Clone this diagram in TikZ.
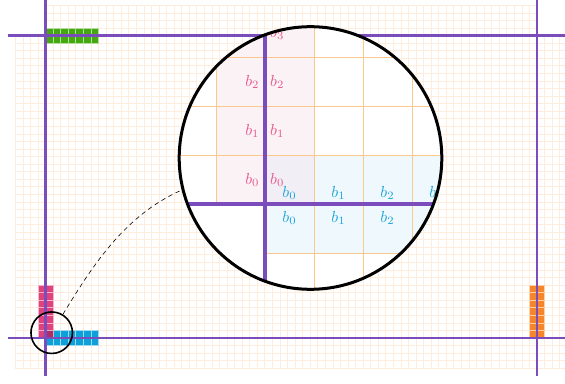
\documentclass[tikz,border=0pt]{standalone}
\definecolor{bndpurple}{RGB}{122,76,188}
\definecolor{finegrid}{RGB}{254,237,220}
\definecolor{maggridc}{RGB}{248,200,140}
\definecolor{ghgreen}{RGB}{70,168,16}
\definecolor{ghpink}{RGB}{224,66,124}
\definecolor{ghblue}{RGB}{14,160,216}
\definecolor{ghorange}{RGB}{246,134,43}
\definecolor{ghover}{RGB}{172,46,104}
\definecolor{pinkbg}{RGB}{251,242,246}
\definecolor{bluebg}{RGB}{239,248,252}
\definecolor{overbg}{RGB}{241,239,245}
\definecolor{plabc}{RGB}{232,88,140}
\definecolor{blabc}{RGB}{30,166,220}
\newcommand{\blabtxt}[1]{\scalebox{1.6}{$b_{#1}$}}
\begin{document}
\begin{tikzpicture}[x=1pt,y=-1pt,
  fine/.style={draw=finegrid, line width=0.9pt},
  ghost/.style={fill=#1, draw=#1!40!white, line width=0.9pt},
  bndline/.style={draw=bndpurple, line width=2.6pt},
  bndmag/.style={draw=bndpurple, line width=3.6pt},
  maggrid/.style={draw=maggridc, line width=1pt},
  lbl/.style={inner sep=0pt},
  plab/.style={lbl, text=plabc},
  blab/.style={lbl, text=blabc},
  link/.style={draw=black, line width=0.6pt, dash pattern=on 4.5pt off 3.5pt}]
\useasboundingbox (0,0) rectangle (565,383);
\clip (0,0) rectangle (565,383);

\begin{scope}[shift={(45.7,35.7)}, x=7.56pt, y=-7.56pt]
  % fine background grid
  \foreach \i in {-4,...,69} \draw[fine] (\i,0) -- (\i,44);
  \foreach \j in {0,...,44} \draw[fine] (-4,\j) -- (69,\j);
  \foreach \i in {0,...,65} \draw[fine] (\i,-4) -- (\i,0);
  \foreach \j in {-4,...,-1} \draw[fine] (0,\j) -- (65,\j);
  % ghost cells
  \foreach \i in {0,...,6} \foreach \j in {-1,0} \path[ghost=ghgreen] (\i,\j) rectangle ++(1,1);
  \foreach \i in {-1,0} \foreach \j in {33,...,39} \path[ghost=ghpink] (\i,\j) rectangle ++(1,1);
  \foreach \i in {0,...,6} \foreach \j in {39,40} \path[ghost=ghblue] (\i,\j) rectangle ++(1,1);
  \foreach \i in {64,65} \foreach \j in {33,...,39} \path[ghost=ghorange] (\i,\j) rectangle ++(1,1);
  \path[ghost=ghover] (0,39) rectangle ++(1,1);
  % domain boundaries
  \draw[bndline] (0,-5) -- (0,45);
  \draw[bndline] (65,-5) -- (65,45);
  \draw[bndline] (-5,0) -- (70,0);
  \draw[bndline] (-5,40) -- (70,40);
\end{scope}

\node[circle, draw, line width=1.6pt, minimum size=41.5pt, inner sep=0pt] (spot) at (51.7,332.7) {};

\begin{scope}
  \clip (310.5,158) circle[radius=131.3];
  \fill[white] (170,20) rectangle (460,300);
  \fill[pinkbg] (216,0) rectangle (314,204);
  \fill[bluebg] (265,155) rectangle (470,253);
  \fill[overbg] (265,155) rectangle (314,204);
  \foreach \x in {314,363,412,461} \draw[maggrid] (\x,0) -- (\x,300);
  \draw[maggrid] (216,0) -- (216,204);
  \foreach \y in {8,57,106,155} \draw[maggrid] (170,\y) -- (470,\y);
  \draw[maggrid] (265,253) -- (470,253);
  \draw[bndmag] (265,0) -- (265,300);
  \draw[bndmag] (170,204) -- (470,204);
  \node[plab, anchor=east] (pl3) at (259.5,33) {\blabtxt{3}};
  \node[plab, anchor=east] (pl2) at (259.5,82) {\blabtxt{2}};
  \node[plab, anchor=east] (pl1) at (259.5,131) {\blabtxt{1}};
  \node[plab, anchor=east] (pl0) at (259.5,180) {\blabtxt{0}};
  \node[plab, anchor=west] (pr3) at (270,33) {\blabtxt{3}};
  \node[plab, anchor=west] (pr2) at (270,82) {\blabtxt{2}};
  \node[plab, anchor=west] (pr1) at (270,131) {\blabtxt{1}};
  \node[plab, anchor=west] (pr0) at (270,180) {\blabtxt{0}};
  \node[blab] (bu0) at (289.5,193) {\blabtxt{0}};
  \node[blab] (bu1) at (338.5,193) {\blabtxt{1}};
  \node[blab] (bu2) at (387.5,193) {\blabtxt{2}};
  \node[blab] (bu3) at (436.5,193) {\blabtxt{3}};
  \node[blab] (bd0) at (289.5,218) {\blabtxt{0}};
  \node[blab] (bd1) at (338.5,218) {\blabtxt{1}};
  \node[blab] (bd2) at (387.5,218) {\blabtxt{2}};
  \node[blab] (bd3) at (436.5,218) {\blabtxt{3}};
\end{scope}

\node[circle, draw, line width=3pt, minimum size=262.6pt, inner sep=0pt] (lens) at (310.5,158) {};
\draw[link] (spot) .. controls (93,265) and (125,215) .. (lens.194);
\end{tikzpicture}
\end{document}
